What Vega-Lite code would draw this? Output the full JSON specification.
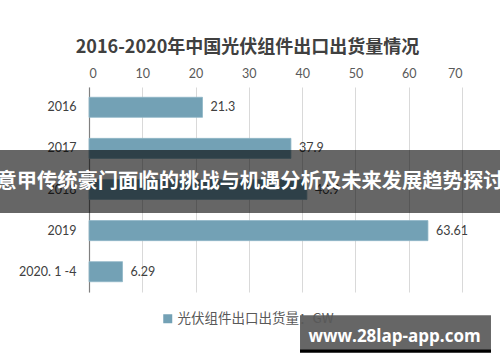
{
  "$schema": "https://vega.github.io/schema/vega-lite/v6.json",
  "width": 373,
  "height": 205,
  "autosize": {"type": "none"},
  "padding": {"left": 89, "top": 87, "right": 38, "bottom": 70},
  "background": "white",
  "title": {
    "text": "2016-2020年中国光伏组件出口出货量情况",
    "font": "Noto Sans CJK SC",
    "fontSize": 18,
    "fontWeight": "bold",
    "color": "#404040",
    "anchor": "middle",
    "dx": -28,
    "offset": 10
  },
  "data": {
    "values": [
      {"year": "2016", "value": 21.3, "label": "21.3", "series": "光伏组件出口出货量：GW"},
      {"year": "2017", "value": 37.9, "label": "37.9", "series": "光伏组件出口出货量：GW"},
      {"year": "2018", "value": 40.9, "label": "40.9", "series": "光伏组件出口出货量：GW"},
      {"year": "2019", "value": 63.61, "label": "63.61", "series": "光伏组件出口出货量：GW"},
      {"year": "2020. 1 -4", "value": 6.29, "label": "6.29", "series": "光伏组件出口出货量：GW"}
    ]
  },
  "encoding": {
    "y": {
      "field": "year",
      "type": "nominal",
      "title": null,
      "scale": {"domain": ["2016", "2017", "2018", "2019", "2020. 1 -4"], "paddingInner": 0.512, "paddingOuter": 0.25},
      "axis": {
        "domain": true,
        "domainColor": "#808080",
        "domainWidth": 1.2,
        "ticks": false,
        "grid": false,
        "labelFont": "Lato",
        "labelFontSize": 12.5,
        "labelColor": "#404040",
        "labelPadding": 13
      }
    },
    "x": {
      "field": "value",
      "type": "quantitative",
      "title": null,
      "scale": {"domain": [0, 70], "nice": false},
      "axis": {
        "orient": "top",
        "values": [0, 10, 20, 30, 40, 50, 60, 70],
        "domain": false,
        "ticks": false,
        "grid": true,
        "gridColor": "#d9d9d9",
        "labelFont": "Lato",
        "labelFontSize": 12.5,
        "labelColor": "#595959",
        "labelPadding": 7
      }
    }
  },
  "layer": [
    {
      "mark": {"type": "bar", "stroke": "#8fb6c7", "strokeWidth": 0.8},
      "encoding": {
        "color": {
          "field": "series",
          "type": "nominal",
          "scale": {"range": ["#73a1b5"]},
          "legend": {
            "title": null,
            "orient": "none",
            "legendX": 72,
            "legendY": 225,
            "symbolType": "square",
            "symbolSize": 81,
            "symbolStrokeWidth": 0,
            "labelFont": "Noto Sans CJK SC",
            "labelFontSize": 13.5,
            "labelColor": "#595959",
            "labelOffset": 3,
            "padding": 0
          }
        }
      }
    },
    {
      "mark": {"type": "text", "align": "left", "baseline": "middle", "dx": 8, "font": "Lato", "fontSize": 12.5, "color": "#404040"},
      "encoding": {"text": {"field": "label"}}
    },
    {
      "transform": [{"filter": "datum.year == '2018'"}],
      "mark": {"type": "rule", "stroke": "#000000", "strokeOpacity": 0.6, "strokeWidth": 63},
      "encoding": {
        "x": {"datum": -18},
        "x2": {"datum": 79},
        "y": {"datum": "2018", "type": "nominal", "bandPosition": 0.1}
      }
    },
    {
      "transform": [{"filter": "datum.year == '2018'"}],
      "mark": {"type": "text", "align": "center", "baseline": "middle", "font": "Noto Sans CJK SC", "fontWeight": "bold", "fontSize": 20.3, "color": "white"},
      "encoding": {
        "x": {"datum": 30.2},
        "y": {"datum": "2018", "type": "nominal", "bandPosition": 0.15},
        "text": {"value": "意甲传统豪门面临的挑战与机遇分析及未来发展趋势探讨"}
      }
    },
    {
      "transform": [{"filter": "datum.year == '2018'"}],
      "mark": {"type": "rule", "stroke": "#000000", "strokeOpacity": 0.6, "strokeWidth": 34},
      "encoding": {
        "x": {"datum": 39.6},
        "x2": {"datum": 75.44},
        "y": {"datum": "2020. 1 -4", "type": "nominal", "bandPosition": 3.515}
      }
    },
    {
      "transform": [{"filter": "datum.year == '2018'"}],
      "mark": {"type": "rule", "stroke": "#000000", "strokeWidth": 3.7},
      "encoding": {
        "x": {"datum": 39.6},
        "x2": {"datum": 75.44},
        "y": {"datum": "2020. 1 -4", "type": "nominal", "bandPosition": 4.455}
      }
    },
    {
      "transform": [{"filter": "datum.year == '2018'"}],
      "mark": {"type": "text", "align": "center", "baseline": "middle", "font": "Open Sans", "fontWeight": "bold", "fontSize": 17, "color": "white"},
      "encoding": {
        "x": {"datum": 57.33},
        "y": {"datum": "2020. 1 -4", "type": "nominal", "bandPosition": 3.75},
        "text": {"value": "www.28lap-app.com"}
      }
    }
  ],
  "config": {
    "view": {"stroke": null}
  }
}
